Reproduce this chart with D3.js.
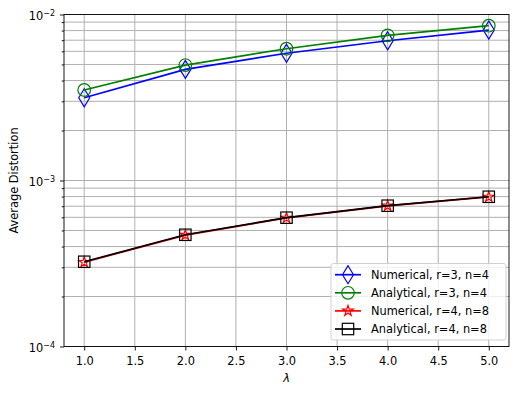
<!DOCTYPE html>
<html>
<head>
	<style>
		html, body { margin: 0; padding: 0; background: white; }
		svg { display: block; font-family: "DejaVu Sans", sans-serif; }
	</style>
</head>
<body>
<svg class="chart" width="525" height="394"></svg>

<script src="https://d3js.org/d3.v7.min.js"></script>
<script>

// data
var lambdas = [1, 2, 3, 4, 5]
var numR3 = [3.15e-3, 4.67e-3, 5.84e-3, 6.95e-3, 8.06e-3]
var anaR3 = [3.51e-3, 4.96e-3, 6.22e-3, 7.49e-3, 8.56e-3]
var numR4 = [3.22e-4, 4.69e-4, 5.95e-4, 7.03e-4, 7.96e-4]
var anaR4 = [3.24e-4, 4.71e-4, 5.97e-4, 7.05e-4, 7.98e-4]
var xTicks = [1.0, 1.5, 2.0, 2.5, 3.0, 3.5, 4.0, 4.5, 5.0]
var yMajor = [1e-4, 1e-3, 1e-2]
var seriesNames = ['Numerical, r=3, n=4', 'Analytical, r=3, n=4', 'Numerical, r=4, n=8', 'Analytical, r=4, n=8']

var series = [
	{ name: seriesNames[0], values: numR3, color: 'blue', marker: 'diamond' },
	{ name: seriesNames[1], values: anaR3, color: 'green', marker: 'circle' },
	{ name: seriesNames[2], values: numR4, color: 'red', marker: 'star' },
	{ name: seriesNames[3], values: anaR4, color: 'black', marker: 'square' }
]

var cfg = { left: 64, right: 509, top: 14.5, bottom: 346.5, font: 11.4 }

var svg = d3.select('.chart')

var x = d3.scaleLinear().domain([0.8, 5.2]).range([cfg.left, cfg.right])
var y = d3.scaleLog().domain([1e-4, 1e-2]).range([cfg.bottom, cfg.top])

// minor y values 2..9 per decade
var yMinor = []
;[1e-4, 1e-3].forEach(function(d) {
	for (var k = 2; k <= 9; k++) yMinor.push(d * k)
})

// grid
var grid = svg.append('g').attr('stroke', '#b0b0b0').attr('stroke-width', 1)
grid.selectAll('.gx').data(xTicks).enter().append('line')
	.attr('x1', function(d) { return x(d) }).attr('x2', function(d) { return x(d) })
	.attr('y1', cfg.top).attr('y2', cfg.bottom)
grid.selectAll('.gy').data(yMajor.concat(yMinor)).enter().append('line')
	.attr('x1', cfg.left).attr('x2', cfg.right)
	.attr('y1', function(d) { return y(d) }).attr('y2', function(d) { return y(d) })

// axes
var xAxis = svg.append('g').attr('transform', 'translate(0,' + cfg.bottom + ')')
	.call(d3.axisBottom(x).tickValues(xTicks).tickFormat(d3.format('.1f')).tickSizeInner(4).tickSizeOuter(0).tickPadding(6))
var yAxis = svg.append('g').attr('transform', 'translate(' + cfg.left + ',0)')
	.call(d3.axisLeft(y).tickValues(yMajor).tickFormat('').tickSizeInner(4).tickSizeOuter(0))
svg.append('g').attr('transform', 'translate(' + cfg.left + ',0)')
	.call(d3.axisLeft(y).tickValues(yMinor).tickFormat('').tickSizeInner(2.3).tickSizeOuter(0))
	.select('.domain').remove()
svg.selectAll('.tick line').attr('stroke', 'black').attr('stroke-width', 0.9)
xAxis.selectAll('text').attr('font-size', cfg.font).attr('fill', 'black').attr('font-family', 'DejaVu Sans')
xAxis.select('.domain').remove()
yAxis.select('.domain').remove()

// y labels as 10^k
var ylab = svg.append('g')
yMajor.forEach(function(d) {
	var t = ylab.append('text')
		.attr('x', 55).attr('y', y(d) + 5.5)
		.attr('text-anchor', 'end')
		.attr('font-size', cfg.font)
	t.append('tspan').text('10')
	t.append('tspan').attr('dy', -4.5).attr('font-size', 8).text('\u2212' + Math.round(-Math.log10(d)))
})

// frame
svg.append('rect')
	.attr('x', cfg.left).attr('y', cfg.top)
	.attr('width', cfg.right - cfg.left).attr('height', cfg.bottom - cfg.top)
	.attr('fill', 'none').attr('stroke', 'black').attr('stroke-width', 0.9)

// lines
var line = d3.line()
	.x(function(d, i) { return x(lambdas[i]) })
	.y(function(d) { return y(d) })

function drawMarker(g, type, color, cx, cy) {
	if (type === 'diamond') {
		g.append('path')
			.attr('d', 'M' + cx + ',' + (cy - 9) + 'L' + (cx + 5.5) + ',' + cy + 'L' + cx + ',' + (cy + 9) + 'L' + (cx - 5.5) + ',' + cy + 'Z')
			.attr('fill', 'none').attr('stroke', color).attr('stroke-width', 1.2)
	} else if (type === 'circle') {
		g.append('circle').attr('cx', cx).attr('cy', cy).attr('r', 6.3)
			.attr('fill', 'none').attr('stroke', color).attr('stroke-width', 1.2)
	} else if (type === 'square') {
		g.append('rect').attr('x', cx - 5.7).attr('y', cy - 5.7).attr('width', 11.4).attr('height', 11.4)
			.attr('fill', 'none').attr('stroke', color).attr('stroke-width', 1.2)
	} else if (type === 'star') {
		g.append('path')
			.attr('d', d3.symbol().type(d3.symbolStar).size(34)())
			.attr('transform', 'translate(' + cx + ',' + cy + ')')
			.attr('fill', 'none').attr('stroke', color).attr('stroke-width', 1.2)
	}
}

series.forEach(function(s) {
	var g = svg.append('g')
	g.append('path').datum(s.values)
		.attr('d', line)
		.attr('fill', 'none').attr('stroke', s.color).attr('stroke-width', 1.7)
	s.values.forEach(function(v, i) {
		drawMarker(g, s.marker, s.color, x(lambdas[i]), y(v))
	})
})

// axis titles
svg.append('text')
	.attr('x', (cfg.left + cfg.right) / 2).attr('y', 382)
	.attr('text-anchor', 'middle').attr('font-size', cfg.font)
	.attr('font-style', 'italic').text('\u03bb')
svg.append('text')
	.attr('transform', 'translate(18,' + ((cfg.top + cfg.bottom) / 2) + ') rotate(-90)')
	.attr('text-anchor', 'middle').attr('font-size', cfg.font)
	.text('Average Distortion')

// legend
var leg = svg.append('g')
leg.append('rect')
	.attr('x', 331).attr('y', 263.5).attr('width', 175).attr('height', 76.5)
	.attr('rx', 2.5).attr('fill', 'white').attr('fill-opacity', 0.8)
	.attr('stroke', '#cccccc').attr('stroke-width', 0.9)
series.forEach(function(s, i) {
	var ly = 274.7 + i * 18.1
	leg.append('line').attr('x1', 335).attr('x2', 361).attr('y1', ly).attr('y2', ly)
		.attr('stroke', s.color).attr('stroke-width', 1.7)
	drawMarker(leg, s.marker, s.color, 348, ly)
	leg.append('text').attr('x', 371).attr('y', ly + 4)
		.attr('font-size', cfg.font).text(s.name)
})

</script>
</body>
</html>
